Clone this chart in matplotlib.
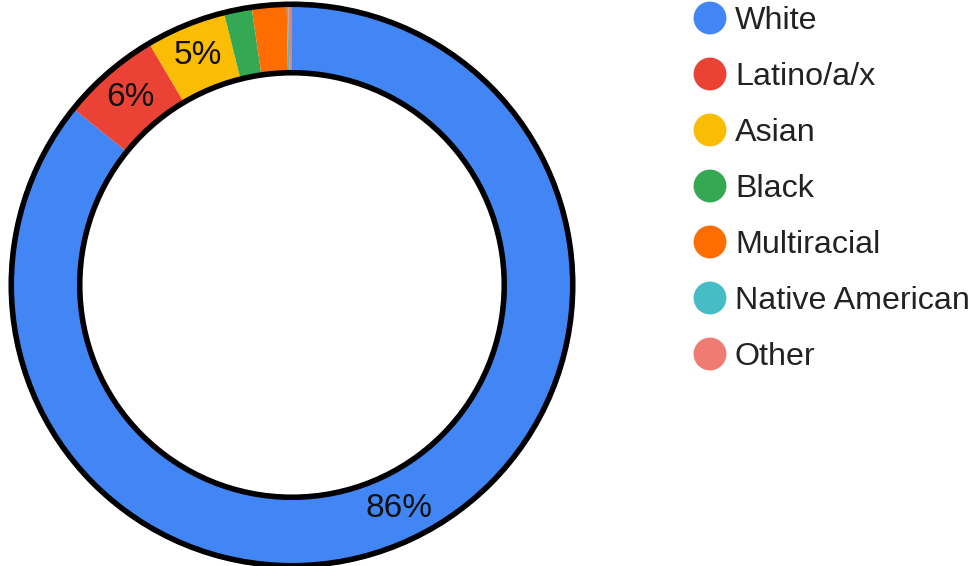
import matplotlib.pyplot as plt

# Share of each group (percent), read from the donut
groups = ['White', 'Latino/a/x', 'Asian', 'Black', 'Multiracial', 'Native American', 'Other']
shares = [85.8, 5.7, 4.6, 1.6, 2.0, 0.1, 0.2]
colors = ['#4285F4', '#EA4335', '#FBBC04', '#34A853', '#FF6D01', '#46BDC6', '#F07B72']

plt.rcParams['font.family'] = ['Liberation Sans', 'DejaVu Sans']

fig = plt.figure(figsize=(9.75, 5.66), dpi=100)
W, H = 975, 566

# donut axes: centre at (292, 285) px, radius 1 = 283 px
cx, cy, half = 292, 285, 290
ax = fig.add_axes([(cx - half) / W, (H - cy - half) / H, 2 * half / W, 2 * half / H])
lim = half / 283
ax.set_xlim(-lim, lim)
ax.set_ylim(-lim, lim)
ax.set_aspect('equal')
ax.axis('off')

inner = 0.75


def show_pct(p):
    # only the larger slices get a label
    return f'{p:.0f}%' if p >= 4 else ''


wedges, texts, autotexts = ax.pie(shares, colors=colors, startangle=90, counterclock=False,
                                  radius=1, autopct=show_pct, pctdistance=(1 + inner) / 2,
                                  wedgeprops=dict(width=1 - inner, edgecolor='none'),
                                  textprops=dict(fontsize=24, color='#111111'))
ax.set_xlim(-lim, lim)
ax.set_ylim(-lim, lim)

# black outlines around the ring
ax.add_patch(plt.Circle((0, 0), 0.992, fill=False, lw=4, color='black'))
ax.add_patch(plt.Circle((0, 0), inner, fill=False, lw=4, color='black'))

# legend drawn in pixel coordinates
lg = fig.add_axes([0, 0, 1, 1])
lg.set_xlim(0, W)
lg.set_ylim(H, 0)
lg.axis('off')
lg.patch.set_alpha(0)
row_y = [18 + 56 * i for i in range(len(groups))]
for name, col, y in zip(groups, colors, row_y):
    lg.scatter([710], [y], s=560, color=col, edgecolor='none')
    lg.text(735, y + 3, name, fontsize=23.2, color='#222222', va='center', ha='left')

plt.savefig('out.png', dpi=100)
